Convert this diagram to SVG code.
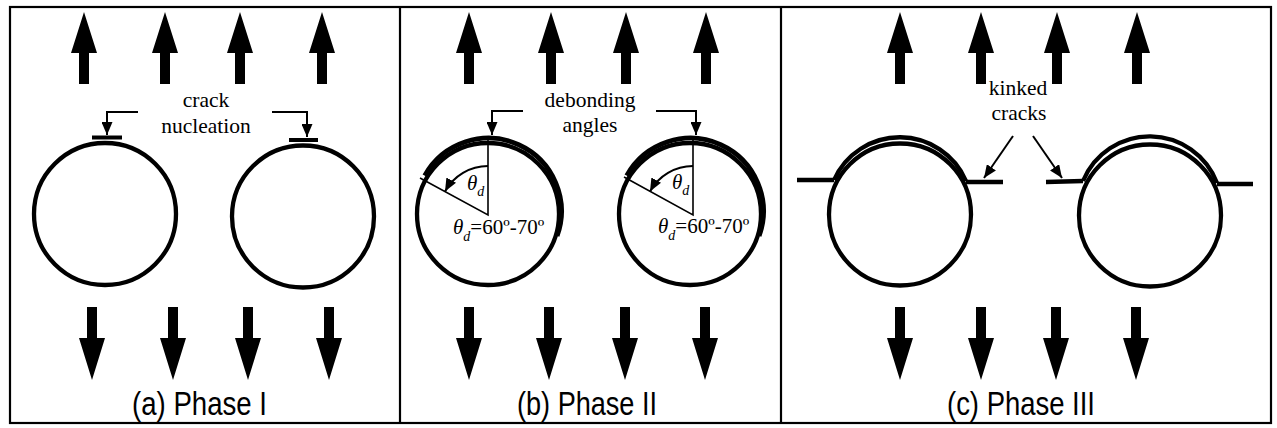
<svg xmlns="http://www.w3.org/2000/svg" width="1277" height="428" viewBox="0 0 1277 428">
<style>
.frame{fill:none;stroke:#000;stroke-width:2.2}
.fib{fill:none;stroke:#000;stroke-width:4.3}
.band{fill:none;stroke:#000;stroke-width:4.8}
.thin{fill:none;stroke:#000;stroke-width:1.6}
.lead{fill:none;stroke:#000;stroke-width:2}
.kink{fill:none;stroke:#000;stroke-width:4.3}
.ser{font-family:"Liberation Serif","Times New Roman",serif;font-size:21.5px;fill:#000;text-anchor:middle}
.it{font-family:"Liberation Serif","Times New Roman",serif;font-size:21px;font-style:italic;fill:#000}
.cap{font-family:"Liberation Sans",Arial,sans-serif;font-size:34px;fill:#000}
</style>
<defs>
<path id="up" d="M0,0 L13,41 L5,41 L5,72 L-5,72 L-5,41 L-13,41 Z" fill="#000"/>
<path id="down" d="M-5,0 L5,0 L5,31 L13,31 L0,73 L-13,31 L-5,31 Z" fill="#000"/>
<marker id="ah" viewBox="0 0 13 11" refX="13" refY="5.5" markerWidth="13" markerHeight="11" markerUnits="userSpaceOnUse" orient="auto">
<path d="M0,0 L13,5.5 L0,11 Z" fill="#000"/>
</marker>
</defs>
<rect width="1277" height="428" fill="#fff"/>
<g id="frame">
<rect class="frame" x="10" y="7" width="1261" height="416"/>
<line class="frame" x1="400" y1="7" x2="400" y2="423"/>
<line class="frame" x1="781" y1="7" x2="781" y2="423"/>
</g>
<g id="load-arrows">
<use href="#up" x="84" y="12"/><use href="#up" x="165" y="12"/><use href="#up" x="240" y="12"/><use href="#up" x="322" y="12"/>
<use href="#down" x="92" y="307"/><use href="#down" x="173" y="307"/><use href="#down" x="248" y="307"/><use href="#down" x="329" y="307"/>
<use href="#up" x="469" y="12"/><use href="#up" x="551" y="12"/><use href="#up" x="626" y="12"/><use href="#up" x="706" y="12"/>
<use href="#down" x="469" y="307"/><use href="#down" x="549" y="307"/><use href="#down" x="625" y="307"/><use href="#down" x="705" y="307"/>
<use href="#up" x="900" y="12"/><use href="#up" x="981" y="12"/><use href="#up" x="1057" y="12"/><use href="#up" x="1137" y="12"/>
<use href="#down" x="900" y="307"/><use href="#down" x="981" y="307"/><use href="#down" x="1056" y="307"/><use href="#down" x="1136" y="307"/>
</g>
<g id="fiber-a1">
<circle class="fib" cx="105" cy="214" r="71"/>
<line x1="92" y1="137.5" x2="122" y2="137.5" stroke="#000" stroke-width="4"/>
</g>
<g id="fiber-a2">
<circle class="fib" cx="303" cy="216.5" r="71"/>
<line x1="289" y1="140" x2="318" y2="140" stroke="#000" stroke-width="4"/>
</g>
<g id="fiber-b1">
<circle class="fib" cx="488" cy="214" r="71"/>
<path class="band" d="M424.7,175.6 A73,73 0 0 1 557.1,236"/>
<polyline class="thin" points="488,137 488,215 420,178"/>
<text class="it" x="467" y="190">θ<tspan font-size="14" dy="6">d</tspan></text>
<text class="it" x="453" y="234">θ<tspan font-size="14" dy="7">d</tspan><tspan dy="-7" font-style="normal">=60º-70º</tspan></text>
</g>
<g id="fiber-b2">
<circle class="fib" cx="690" cy="214" r="71"/>
<path class="band" d="M626.7,175.6 A73,73 0 0 1 759.1,236"/>
<polyline class="thin" points="693,137 693,215 624,177"/>
<text class="it" x="672" y="189">θ<tspan font-size="14" dy="6">d</tspan></text>
<text class="it" x="658" y="233">θ<tspan font-size="14" dy="7">d</tspan><tspan dy="-7" font-style="normal">=60º-70º</tspan></text>
</g>
<g id="fiber-c1">
<circle class="fib" cx="900" cy="214.5" r="71"/>
<path class="fib" d="M834,180 A72,72 0 0 1 966,181"/>
<line class="kink" x1="797" y1="180" x2="834" y2="180"/>
<line class="kink" x1="966" y1="182" x2="1003" y2="182"/>
</g>
<g id="fiber-c2">
<circle class="fib" cx="1150" cy="215.5" r="71"/>
<path class="fib" d="M1083,181 A72,72 0 0 1 1217,183"/>
<line class="kink" x1="1046" y1="182" x2="1083" y2="181"/>
<line class="kink" x1="1217" y1="184" x2="1253" y2="184"/>
</g>
<g id="connectors">
<polyline class="lead" points="138,112 107,112 107,135" marker-end="url(#ah)"/>
<polyline class="lead" points="272,112 307,112 307,137" marker-end="url(#ah)"/>
<polyline class="lead" points="523,111 492,111 492,135" marker-end="url(#ah)"/>
<polyline class="lead" points="656,111 696,111 696,135" marker-end="url(#ah)"/>
<path class="lead" stroke-width="2.6" d="M488,166 A49,49 0 0 0 445,191.5" marker-end="url(#ah)"/>
<path class="lead" stroke-width="2.6" d="M693,166 A49,49 0 0 0 650,191.5" marker-end="url(#ah)"/>
<line class="lead" x1="1013" y1="136" x2="984" y2="178" marker-end="url(#ah)"/>
<line class="lead" x1="1033" y1="136" x2="1062" y2="178" marker-end="url(#ah)"/>
</g>
<g id="labels">
<text class="ser" x="206" y="107">crack</text>
<text class="ser" x="206" y="133">nucleation</text>
<text class="ser" x="590" y="107">debonding</text>
<text class="ser" x="590" y="132">angles</text>
<text class="ser" x="1018" y="95">kinked</text>
<text class="ser" x="1019" y="120">cracks</text>
<text class="cap" x="132" y="415" textLength="135" lengthAdjust="spacingAndGlyphs">(a) Phase I</text>
<text class="cap" x="517" y="415" textLength="140" lengthAdjust="spacingAndGlyphs">(b) Phase II</text>
<text class="cap" x="947" y="415" textLength="148" lengthAdjust="spacingAndGlyphs">(c) Phase III</text>
</g>
</svg>
